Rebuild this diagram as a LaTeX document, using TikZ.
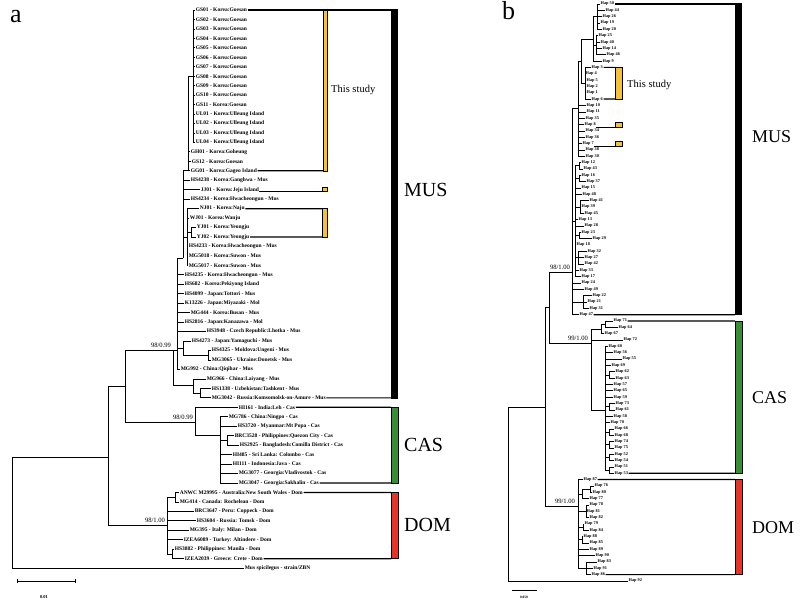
\documentclass[tikz,border=0pt]{standalone}
\usepackage{fontspec}
\setmainfont{Liberation Serif}
\definecolor{yel}{RGB}{245,192,58}
\definecolor{grn}{RGB}{56,142,52}
\definecolor{rd}{RGB}{230,53,39}
\tikzset{
  al/.style={anchor=west, inner sep=0.6pt, font=\bfseries\fontsize{5.5}{6}\selectfont},
  bl/.style={anchor=west, inner sep=0.5pt, font=\bfseries\fontsize{4.3}{5}\selectfont},
  bra/.style={line width=0.8pt},
  brb/.style={line width=0.5pt},
  bk/.style={line width=1.2pt},
  bs/.style={inner sep=0.8pt, font=\fontsize{6.6}{7}\selectfont},
  big/.style={anchor=west, inner sep=0pt, font=\fontsize{20}{22}\selectfont},
  ts/.style={anchor=west, inner sep=0pt, font=\fontsize{10.5}{12}\selectfont},
}
\newcommand\aleaf[3]{\node[al] (a#1) at (#2,{10+(#1-1)*9.46}) {#3};}
\newcommand\bleaf[3]{\node[bl] (bh#1) at (#2,{4+(#1-1)*6.34}) {Hap #3};}
\begin{document}
\begin{tikzpicture}[x=1pt,y=-1pt]
\useasboundingbox (0,0) rectangle (800,601);
% ---------------- panel a ----------------
\node[anchor=base west, inner sep=0, font=\fontsize{26}{28}\selectfont] (pa) at (10,23) {a};
\foreach \i in {1,...,9} {\aleaf{\i}{195}{GS0\i\ - Korea:Goesan}}
\aleaf{10}{195}{GS10 - Korea:Goesan}
\aleaf{11}{195}{GS11 - Korea:Goesan}
\aleaf{12}{195}{UL01 - Korea:Ulleung Island}
\aleaf{13}{195}{UL02 - Korea:Ulleung Island}
\aleaf{14}{195}{UL03 - Korea:Ulleung Island}
\aleaf{15}{195}{UL04 - Korea:Ulleung Island}
\aleaf{16}{190}{GH01 - Korea:Goheung}
\aleaf{17}{191}{GS12 - Korea:Goesan}
\aleaf{18}{190}{GG01 - Korea:Gageo Island}
\aleaf{19}{190}{HS4238 - Korea:Ganghwa - Mus}
\aleaf{20}{200}{JJ01 - Korea:Jeju Island}
\aleaf{21}{190}{HS4234 - Korea:Hwacheongun - Mus}
\aleaf{22}{199}{NJ01 - Korea:Naju}
\aleaf{23}{189}{WJ01 - Korea:Wanju}
\aleaf{24}{196}{YJ01 - Korea:Yeongju}
\aleaf{25}{196}{YJ02 - Korea:Yeongju}
\aleaf{26}{188}{HS4233 - Korea:Hwacheongun - Mus}
\aleaf{27}{188}{MG5018 - Korea:Suwon - Mus}
\aleaf{28}{188}{MG5017 - Korea:Suwon - Mus}
\aleaf{29}{184}{HS4235 - Korea:Hwacheongun - Mus}
\aleaf{30}{184}{HS682 - Korea:Pekiyong Island}
\aleaf{31}{184}{HS4099 - Japan:Tottori - Mus}
\aleaf{32}{184}{K13226 - Japan:Miyazaki - Mol}
\aleaf{33}{190}{MG444 - Korea:Busan - Mus}
\aleaf{34}{184}{HS2816 - Japan:Kanazawa - Mol}
\aleaf{35}{206}{HS3948 - Czech Republic:Lhotka - Mus}
\aleaf{36}{191}{HS4273 - Japan:Yamaguchi - Mus}
\aleaf{37}{211}{HS4325 - Moldova:Ungeni - Mus}
\aleaf{38}{211}{MG3065 - Ukraine:Donetsk - Mus}
\aleaf{39}{180}{MG992 - China:Qiqihar - Mus}
\aleaf{40}{206}{MG966 - China:Laiyang - Mus}
\aleaf{41}{211}{HS1338 - Uzbekistan:Tashkent - Mus}
\aleaf{42}{211}{MG3042 - Russia:Komsomolsk-on-Amure - Mus}
\aleaf{43}{238}{HI161 - India:Leh - Cas}
\aleaf{44}{228}{MG786 - China:Ningpo - Cas}
\aleaf{45}{237}{HS3720 - Myanmar:Mt Popa - Cas}
\aleaf{46}{234}{BRC3528 - Philippines:Quezon City - Cas}
\aleaf{47}{239}{HS2925 - Bangladesh:Comilla District - Cas}
\aleaf{48}{232}{HI485 - Sri Lanka: Colombo - Cas}
\aleaf{49}{232}{HI111 - Indonesia:Java - Cas}
\aleaf{50}{238}{MG3077 - Georgia:Vladivostok - Cas}
\aleaf{51}{238}{MG3047 - Georgia:Sakhalin - Cas}
\aleaf{52}{179}{ANWC M29995 - Australia:New South Wales - Dom}
\aleaf{53}{179}{MG414 - Canada: Rochelean - Dom}
\aleaf{54}{194}{BRC3647 - Peru: Coppeck - Dom}
\aleaf{55}{196}{HS3604 - Russia: Tomsk - Dom}
\aleaf{56}{189}{MG395 - Italy: Milan - Dom}
\aleaf{57}{183}{IZEA6089 - Turkey: Altindere - Dom}
\aleaf{58}{174}{HS3882 - Philippines: Manila - Dom}
\aleaf{59}{184}{IZEA2039 - Greece: Crete - Dom}
\aleaf{60}{244}{Mus spicilegus - strain/ZBN}
% internal nodes a
\coordinate (aN1) at (193,76.2);
\coordinate (aN2) at (188,170.8);
\coordinate (aN3) at (183,258);
\coordinate (aN4) at (187,237);
\coordinate (aYJ) at (191,232.3);
\coordinate (aN5) at (177,350);
\coordinate (aN6) at (183,348);
\coordinate (aN6b) at (208,355.3);
\coordinate (aN7) at (193,385);
\coordinate (aN7b) at (200,393.1);
\coordinate (aMUS) at (173,350);
\coordinate (aC4) at (227,440.4);
\coordinate (aC2) at (220,435);
\coordinate (aCAS) at (195,422);
\coordinate (aMC) at (125,386);
\coordinate (aD1) at (175,497.2);
\coordinate (aD2) at (172,554);
\coordinate (aDOM) at (167,525);
\coordinate (aIn) at (108,457);
\coordinate (aRoot) at (12,457);
\begin{scope}[bra]
\foreach \c in {1,...,15} \draw (aN1) |- (a\c.west);
\draw (aN2) |- (aN1);
\foreach \c in {16,17,18} \draw (aN2) |- (a\c.west);
\draw (aN3) |- (aN2); \draw (aN3) |- (aN4);
\foreach \c in {19,20,21} \draw (aN3) |- (a\c.west);
\foreach \c in {22,23,26,27,28} \draw (aN4) |- (a\c.west);
\draw (aN4) |- (aYJ);
\foreach \c in {24,25} \draw (aYJ) |- (a\c.west);
\draw (aN5) |- (aN3); \draw (aN5) |- (aN6);
\foreach \c in {29,...,35,39} \draw (aN5) |- (a\c.west);
\draw (aN6) |- (a36.west); \draw (aN6) |- (aN6b);
\foreach \c in {37,38} \draw (aN6b) |- (a\c.west);
\draw (aN7) |- (a40.west); \draw (aN7) |- (aN7b);
\foreach \c in {41,42} \draw (aN7b) |- (a\c.west);
\draw (aMUS) |- (aN5); \draw (aMUS) |- (aN7);
\foreach \c in {46,47} \draw (aC4) |- (a\c.west);
\foreach \c in {44,45,48,49,50,51} \draw (aC2) |- (a\c.west);
\draw (aC2) |- (aC4);
\draw (aCAS) |- (a43.west); \draw (aCAS) |- (aC2);
\draw (aMC) |- (aMUS); \draw (aMC) |- (aCAS);
\foreach \c in {52,53} \draw (aD1) |- (a\c.west);
\foreach \c in {58,59} \draw (aD2) |- (a\c.west);
\foreach \c in {54,...,57} \draw (aDOM) |- (a\c.west);
\draw (aDOM) |- (aD1); \draw (aDOM) |- (aD2);
\draw (aIn) |- (aMC); \draw (aIn) |- (aDOM);
\draw (aRoot) |- (aIn); \draw (aRoot) |- (a60.west);
\end{scope}
\node[bs, anchor=south east] (sa1) at (172,349) {98/0.99};
\node[bs, anchor=south east] (sa2) at (194,421) {98/0.99};
\node[bs, anchor=south east] (sa3) at (166,524) {98/1.00};
% brackets a
\draw[bk] (a1.east) -- (391,10);
\fill[black] (391,9) rectangle (398,398.5);
\draw[bk] (a42.east) -- (391,397.86);
\draw[bk] (a18.east) -- (323,170.82);
\draw[line width=0.6pt, fill=yel] (323,10) rectangle (327.5,170.82);
\draw[line width=0.7pt] ([yshift=-2pt]a20.east) rectangle (327.5,191.74);
\draw[line width=0.6pt, fill=yel] (322,187.74) rectangle (327.5,191.74);
\draw[bk] (a22.east) -- (322.5,208.66);
\draw[bk] (a25.east) -- (322.5,237.04);
\draw[line width=0.6pt, fill=yel] (322.5,208.66) rectangle (327.5,237.04);
\node[ts] (tsa) at (331,90) {This study};
\draw[bk] (a43.east) -- (391,407.32);
\draw[bk] (a51.east) -- (391,483);
\draw[line width=0.6pt, fill=grn] (391,407.32) rectangle (398,483);
\draw[bk] (a52.east) -- (391,492.46);
\draw[bk] (a59.east) -- (391,558.68);
\draw[line width=0.6pt, fill=rd] (391,492.46) rectangle (398,558.68);
\node[big] (musa) at (404,190) {MUS};
\node[big] (casa) at (404,445) {CAS};
\node[big] (doma) at (404,525) {DOM};
\coordinate (sbl) at (17,581); \coordinate (sbr) at (75,581);
\draw[line width=0.8pt] (sbl) -- (sbr);
\draw[line width=0.6pt] ([yshift=-2pt]sbl) -- ([yshift=2pt]sbl);
\draw[line width=0.6pt] ([yshift=-2pt]sbr) -- ([yshift=2pt]sbr);
\node[inner sep=0, font=\bfseries\fontsize{4.5}{5}\selectfont] (sba) at (44,597) {0.01};
% ---------------- panel b ----------------
\node[anchor=base west, inner sep=0, font=\fontsize{26}{28}\selectfont] (pb) at (502,20) {b};
\bleaf{1}{600}{50}\bleaf{2}{605}{44}\bleaf{3}{602}{26}\bleaf{4}{600}{19}\bleaf{5}{602}{20}
\bleaf{6}{598}{25}\bleaf{7}{600}{40}\bleaf{8}{602}{14}\bleaf{9}{606}{46}\bleaf{10}{602}{9}
\bleaf{11}{591}{3}\bleaf{12}{585}{4}\bleaf{13}{586}{5}\bleaf{14}{586}{2}\bleaf{15}{586}{1}
\bleaf{16}{591}{6}\bleaf{17}{586}{10}\bleaf{18}{586}{11}\bleaf{19}{585}{35}\bleaf{20}{584}{8}
\bleaf{21}{585}{34}\bleaf{22}{585}{36}\bleaf{23}{582}{7}\bleaf{24}{585}{38}\bleaf{25}{585}{30}
\bleaf{26}{581}{12}\bleaf{27}{583}{43}\bleaf{28}{581}{16}\bleaf{29}{586}{37}\bleaf{30}{581}{15}
\bleaf{31}{582}{48}\bleaf{32}{589}{41}\bleaf{33}{581}{39}\bleaf{34}{584}{45}\bleaf{35}{578}{13}
\bleaf{36}{584}{28}\bleaf{37}{581}{23}\bleaf{38}{592}{29}\bleaf{39}{576}{18}\bleaf{40}{587}{32}
\bleaf{41}{584}{27}\bleaf{42}{584}{42}\bleaf{43}{579}{33}\bleaf{44}{581}{17}\bleaf{45}{581}{24}
\bleaf{46}{584}{49}\bleaf{47}{592}{22}\bleaf{48}{587}{21}\bleaf{49}{589}{31}\bleaf{50}{579}{47}
\bleaf{51}{613}{71}\bleaf{52}{618}{64}\bleaf{53}{604}{67}\bleaf{54}{623}{72}\bleaf{55}{608}{60}
\bleaf{56}{613}{56}\bleaf{57}{622}{55}\bleaf{58}{611}{69}\bleaf{59}{615}{62}\bleaf{60}{615}{63}
\bleaf{61}{613}{57}\bleaf{62}{613}{65}\bleaf{63}{613}{59}\bleaf{64}{615}{73}\bleaf{65}{615}{61}
\bleaf{66}{613}{58}\bleaf{67}{610}{70}\bleaf{68}{614}{66}\bleaf{69}{614}{68}\bleaf{70}{614}{74}
\bleaf{71}{614}{75}\bleaf{72}{614}{52}\bleaf{73}{614}{54}\bleaf{74}{614}{51}\bleaf{75}{614}{53}
\bleaf{76}{583}{87}\bleaf{77}{594}{76}\bleaf{78}{592}{80}\bleaf{79}{589}{77}\bleaf{80}{589}{78}
\bleaf{81}{586}{81}\bleaf{82}{589}{82}\bleaf{83}{584}{79}\bleaf{84}{589}{84}\bleaf{85}{583}{88}
\bleaf{86}{589}{85}\bleaf{87}{589}{89}\bleaf{88}{595}{90}\bleaf{89}{597}{83}\bleaf{90}{593}{91}
\bleaf{91}{591}{86}\bleaf{92}{628}{92}
\coordinate (bA1) at (597,16.68);
\coordinate (bA3) at (596,45);
\coordinate (bA2) at (593,39);
\coordinate (bC1) at (585,83.3);
\coordinate (bB1) at (581,61);
\coordinate (bD) at (578,108);
\coordinate (bP1) at (579,165.7);
\coordinate (bP2) at (579,178.3);
\coordinate (bP3) at (580,207);
\coordinate (bP4) at (579,235.4);
\coordinate (bP5) at (578,257.6);
\coordinate (bE) at (575,221);
\coordinate (bP6) at (583,302);
\coordinate (bM) at (572,272);
\coordinate (bCa) at (605,324.2);
\coordinate (bCb) at (601,329);
\coordinate (bQ1) at (609,374.9);
\coordinate (bQ2) at (609,406.6);
\coordinate (bQ3) at (609,432);
\coordinate (bQ4) at (609,444.6);
\coordinate (bQ5) at (609,457.3);
\coordinate (bQ6) at (609,470);
\coordinate (bCc) at (605,410);
\coordinate (bCAS) at (591,343);
\coordinate (bDa) at (590,489);
\coordinate (bD1) at (582,494);
\coordinate (bD2) at (586,511.2);
\coordinate (bD3) at (583,527);
\coordinate (bD4) at (582,539.7);
\coordinate (bD5) at (586,568.3);
\coordinate (bDOM) at (578,506);
\coordinate (bI2) at (549,307);
\coordinate (bI1) at (545,407);
\coordinate (bR) at (508,407);
\begin{scope}[brb]
\foreach \c in {1,...,5} \draw (bA1) |- (bh\c.west);
\foreach \c in {6,...,9} \draw (bA3) |- (bh\c.west);
\draw (bA2) |- (bA1); \draw (bA2) |- (bA3); \draw (bA2) |- (bh10.west);
\foreach \c in {11,...,16} \draw (bC1) |- (bh\c.west);
\draw (bB1) |- (bA2); \draw (bB1) |- (bC1);
\draw (bD) |- (bB1);
\foreach \c in {17,...,25} \draw (bD) |- (bh\c.west);
\foreach \c in {26,27} \draw (bP1) |- (bh\c.west);
\foreach \c in {28,29} \draw (bP2) |- (bh\c.west);
\foreach \c in {32,33,34} \draw (bP3) |- (bh\c.west);
\foreach \c in {37,38} \draw (bP4) |- (bh\c.west);
\foreach \c in {40,41,42} \draw (bP5) |- (bh\c.west);
\foreach \c in {bP1,bP2,bP3,bP4,bP5} \draw (bE) |- (\c);
\foreach \c in {30,31,35,36,39,43,44} \draw (bE) |- (bh\c.west);
\foreach \c in {47,48,49} \draw (bP6) |- (bh\c.west);
\draw (bM) |- (bD); \draw (bM) |- (bE); \draw (bM) |- (bP6);
\foreach \c in {45,46,50} \draw (bM) |- (bh\c.west);
\foreach \c in {51,52} \draw (bCa) |- (bh\c.west);
\draw (bCb) |- (bCa); \draw (bCb) |- (bh53.west);
\foreach \c in {59,60} \draw (bQ1) |- (bh\c.west);
\foreach \c in {64,65} \draw (bQ2) |- (bh\c.west);
\foreach \c in {68,69} \draw (bQ3) |- (bh\c.west);
\foreach \c in {70,71} \draw (bQ4) |- (bh\c.west);
\foreach \c in {72,73} \draw (bQ5) |- (bh\c.west);
\foreach \c in {74,75} \draw (bQ6) |- (bh\c.west);
\foreach \c in {55,56,57,58,61,62,63,66,67} \draw (bCc) |- (bh\c.west);
\foreach \c in {bQ1,bQ2,bQ3,bQ4,bQ5,bQ6} \draw (bCc) |- (\c);
\draw (bCAS) |- (bCb); \draw (bCAS) |- (bh54.west); \draw (bCAS) |- (bCc);
\foreach \c in {77,78} \draw (bDa) |- (bh\c.west);
\draw (bD1) |- (bDa); \draw (bD1) |- (bh79.west);
\foreach \c in {80,81,82} \draw (bD2) |- (bh\c.west);
\foreach \c in {83,84} \draw (bD3) |- (bh\c.west);
\foreach \c in {85,86} \draw (bD4) |- (bh\c.west);
\foreach \c in {89,90,91} \draw (bD5) |- (bh\c.west);
\foreach \c in {bD1,bD2,bD3,bD4,bD5} \draw (bDOM) |- (\c);
\foreach \c in {76,87,88} \draw (bDOM) |- (bh\c.west);
\draw (bI2) |- (bM); \draw (bI2) |- (bCAS);
\draw (bI1) |- (bI2); \draw (bI1) |- (bDOM);
\draw (bR) |- (bI1); \draw (bR) |- (bh92.west);
\end{scope}
\node[bs, anchor=south east] (sb1) at (571,271) {98/1.00};
\node[bs, anchor=south east] (sb2) at (589,342) {99/1.00};
\node[bs, anchor=south east] (sb3) at (576,505) {99/1.00};
% brackets b
\draw[bk] (bh1.east) -- (735,4);
\fill[black] (735,3) rectangle (742,315.2);
\draw[bk] (bh50.east) -- (735,314.66);
\draw[bk] (bh11.east) -- (615,67.4);
\draw[bk] (bh16.east) -- (615,99.1);
\draw[line width=0.6pt, fill=yel] (615,67.4) rectangle (622,99.1);
\draw[line width=0.7pt] ([yshift=-2.5pt]bh20.east) rectangle (622,127.4);
\draw[line width=0.6pt, fill=yel] (615,121.9) rectangle (622,127.4);
\draw[line width=0.7pt] ([yshift=-2.5pt]bh23.east) rectangle (622,146.4);
\draw[line width=0.6pt, fill=yel] (615,140.9) rectangle (622,146.4);
\node[ts] (tsb) at (627,85) {This study};
\draw[bk] (bh51.east) -- (735,321);
\draw[bk] (bh75.east) -- (735,473.16);
\draw[line width=0.6pt, fill=grn] (735,321) rectangle (742,473.16);
\draw[bk] (bh76.east) -- (735,479.5);
\draw[bk] (bh91.east) -- (735,574.6);
\draw[line width=0.6pt, fill=rd] (735,479.5) rectangle (742,574.6);
\node[big, font=\fontsize{18}{20}\selectfont] (musb) at (752,137) {MUS};
\node[big, font=\fontsize{18}{20}\selectfont] (casb) at (752,398) {CAS};
\node[big, font=\fontsize{18}{20}\selectfont] (domb) at (752,528) {DOM};
\coordinate (sbl2) at (512,590); \coordinate (sbr2) at (537,590);
\draw[line width=0.6pt] (sbl2) -- (sbr2);
\node[inner sep=0, font=\bfseries\fontsize{3.5}{4}\selectfont] (sbb) at (524,597) {0.050};
\end{tikzpicture}
\end{document}
